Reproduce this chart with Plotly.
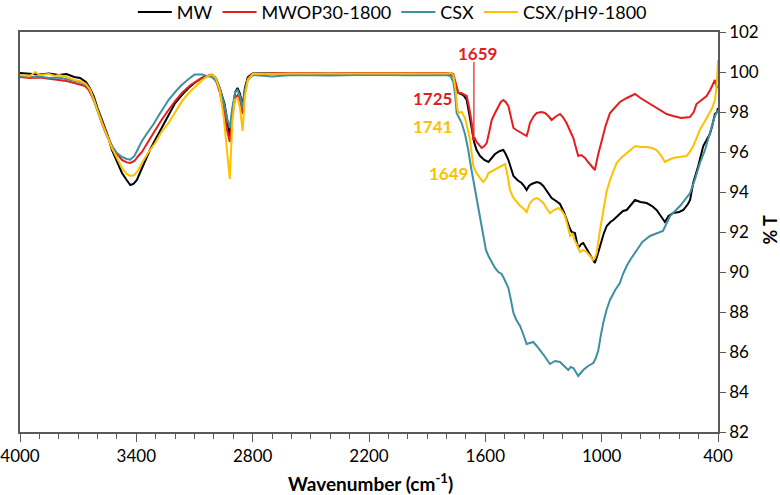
import plotly.graph_objects as go

# ---- data (wavenumber cm-1, %T) ----
mw_x = [4000, 3950, 3900, 3850, 3800, 3760, 3720, 3690, 3660, 3640, 3620, 3600, 3577, 3550, 3526, 3500, 3474, 3450, 3431, 3415, 3397, 3375, 3354, 3330, 3303, 3275, 3251, 3225, 3200, 3165, 3131, 3100, 3062, 3030, 3011, 2990, 2970, 2945, 2930, 2918, 2905, 2890, 2878, 2865, 2852, 2840, 2825, 2800, 2600, 2400, 2200, 2000, 1900, 1800, 1780, 1765, 1750, 1739, 1725, 1710, 1696, 1683, 1670, 1658, 1645, 1627, 1605, 1584, 1567, 1550, 1525, 1507, 1495, 1481, 1468, 1455, 1435, 1413, 1400, 1387, 1375, 1361, 1335, 1318, 1301, 1280, 1258, 1235, 1215, 1195, 1181, 1165, 1155, 1138, 1128, 1121, 1105, 1095, 1080, 1069, 1050, 1035, 1020, 1009, 990, 974, 955, 940, 920, 906, 890, 871, 850, 828, 800, 768, 740, 717, 695, 674, 655, 631, 600, 579, 555, 544, 528, 502, 476, 460, 442, 430, 416, 405, 400]
mw_y = [99.95, 99.9, 99.88, 99.92, 99.85, 99.9, 99.75, 99.7, 99.5, 99.2, 98.8, 98.2, 97.6, 96.9, 96.1, 95.5, 94.95, 94.6, 94.35, 94.4, 94.6, 95.1, 95.6, 96.1, 96.6, 97.1, 97.6, 98.0, 98.45, 98.85, 99.2, 99.45, 99.7, 99.82, 99.87, 99.7, 99.2, 98.4, 97.5, 96.8, 98.0, 99.0, 99.2, 98.9, 98.3, 99.2, 99.75, 99.92, 99.95, 99.93, 99.95, 99.94, 99.93, 99.93, 99.92, 99.8, 99.2, 98.95, 98.9, 98.8, 98.6, 97.9, 97.1, 96.5, 96.1, 95.8, 95.6, 95.5, 95.7, 95.9, 96.05, 96.1, 95.9, 95.6, 95.2, 94.8, 94.6, 94.45, 94.3, 94.1, 94.3, 94.4, 94.5, 94.45, 94.3, 94.0, 93.7, 93.55, 93.4, 93.0, 92.6, 92.2, 92.0, 91.95, 91.5, 91.2, 91.4, 91.45, 91.2, 91.0, 90.7, 90.45, 90.9, 91.3, 91.9, 92.3, 92.5, 92.6, 92.8, 92.9, 93.05, 93.1, 93.35, 93.6, 93.5, 93.45, 93.3, 93.1, 92.8, 92.5, 92.8, 92.95, 93.0, 93.1, 93.4, 93.6, 94.45, 95.3, 96.3, 96.6, 96.9, 97.3, 97.9, 98.0, 98.2]

mwop_x = [4000, 3950, 3900, 3850, 3800, 3760, 3720, 3690, 3665, 3645, 3620, 3600, 3577, 3552, 3526, 3500, 3474, 3450, 3431, 3410, 3390, 3371, 3340, 3303, 3270, 3234, 3200, 3165, 3120, 3079, 3040, 3011, 2990, 2970, 2945, 2930, 2918, 2905, 2890, 2878, 2865, 2852, 2840, 2825, 2800, 2600, 2400, 2200, 2000, 1900, 1800, 1780, 1765, 1752, 1739, 1725, 1710, 1696, 1683, 1670, 1662, 1655, 1645, 1630, 1619, 1605, 1593, 1580, 1567, 1550, 1533, 1520, 1507, 1495, 1481, 1468, 1455, 1440, 1421, 1400, 1387, 1378, 1370, 1350, 1335, 1310, 1292, 1275, 1258, 1240, 1215, 1200, 1181, 1165, 1146, 1135, 1121, 1105, 1086, 1070, 1060, 1045, 1035, 1020, 1000, 980, 957, 930, 906, 870, 850, 828, 800, 768, 735, 700, 665, 631, 590, 545, 525, 511, 490, 459, 440, 425, 416, 408, 400]
mwop_y = [99.75, 99.7, 99.72, 99.65, 99.6, 99.55, 99.45, 99.35, 99.3, 99.1, 98.6, 98.1, 97.5, 96.9, 96.3, 95.9, 95.6, 95.48, 95.45, 95.55, 95.8, 96.0, 96.5, 97.1, 97.6, 98.1, 98.55, 98.95, 99.35, 99.6, 99.78, 99.85, 99.6, 99.0, 97.9, 97.0, 96.5, 97.8, 98.7, 98.85, 98.6, 97.9, 99.0, 99.7, 99.9, 99.95, 99.93, 99.95, 99.94, 99.95, 99.95, 99.95, 99.9, 99.4, 98.95, 98.95, 98.85, 98.8, 98.2, 97.45, 96.6, 96.7, 96.5, 96.3, 96.2, 96.3, 96.45, 97.0, 97.6, 97.95, 98.3, 98.5, 98.6, 98.5, 98.3, 97.8, 97.2, 97.1, 97.0, 96.9, 96.8, 97.1, 97.45, 97.8, 97.95, 98.0, 97.95, 97.8, 97.6, 97.75, 97.9, 97.75, 97.45, 97.1, 96.7, 96.3, 95.8, 95.85, 95.7, 95.5, 95.4, 95.2, 95.1, 95.8, 96.6, 97.3, 97.95, 98.25, 98.5, 98.7, 98.8, 98.9, 98.7, 98.5, 98.3, 98.1, 97.9, 97.8, 97.7, 97.75, 98.0, 98.4, 98.55, 98.8, 99.1, 99.45, 99.6, 99.3, 99.2]

csx_x = [4000, 3950, 3900, 3850, 3800, 3760, 3720, 3690, 3660, 3640, 3620, 3600, 3577, 3552, 3526, 3500, 3474, 3450, 3431, 3410, 3390, 3371, 3340, 3311, 3280, 3250, 3234, 3200, 3165, 3130, 3100, 3060, 3040, 3010, 2990, 2970, 2945, 2930, 2918, 2905, 2890, 2878, 2865, 2852, 2840, 2825, 2800, 2700, 2600, 2400, 2200, 2000, 1900, 1800, 1780, 1765, 1755, 1748, 1735, 1722, 1705, 1688, 1675, 1662, 1650, 1636, 1622, 1610, 1597, 1584, 1567, 1550, 1533, 1516, 1500, 1481, 1468, 1455, 1440, 1421, 1405, 1387, 1370, 1353, 1335, 1318, 1295, 1267, 1240, 1215, 1195, 1172, 1160, 1146, 1130, 1121, 1108, 1095, 1070, 1043, 1030, 1017, 1005, 992, 975, 957, 930, 906, 890, 871, 850, 820, 790, 751, 715, 684, 647, 596, 544, 520, 493, 467, 440, 416, 405, 400]
csx_y = [99.8, 99.75, 99.78, 99.7, 99.72, 99.65, 99.55, 99.5, 99.35, 99.1, 98.6, 98.0, 97.4, 96.8, 96.3, 95.95, 95.75, 95.65, 95.62, 95.8, 96.2, 96.55, 97.0, 97.4, 97.9, 98.35, 98.6, 99.0, 99.36, 99.65, 99.87, 99.88, 99.8, 99.75, 99.55, 99.2, 98.3, 97.6, 97.2, 98.2, 99.0, 99.1, 98.8, 98.2, 99.1, 99.6, 99.85, 99.78, 99.85, 99.82, 99.86, 99.84, 99.85, 99.85, 99.8, 99.5, 98.8, 97.95, 97.7, 97.45, 96.9, 96.1, 95.3, 94.6, 93.9, 93.1, 92.3, 91.6, 91.1, 90.8, 90.5, 90.2, 90.0, 89.9, 89.6, 89.2, 88.6, 87.95, 87.6, 87.3, 86.9, 86.4, 86.45, 86.5, 86.3, 86.1, 85.8, 85.4, 85.55, 85.5, 85.3, 85.1, 85.25, 85.2, 84.95, 84.8, 84.95, 85.1, 85.3, 85.45, 85.7, 86.1, 86.8, 87.45, 88.1, 88.6, 89.1, 89.45, 89.9, 90.3, 90.65, 91.1, 91.5, 91.8, 91.95, 92.05, 92.8, 93.3, 93.95, 94.6, 95.45, 96.1, 97.0, 97.8, 98.0, 98.1]

csxph_x = [4000, 3950, 3920, 3900, 3850, 3820, 3800, 3760, 3720, 3690, 3660, 3640, 3620, 3600, 3577, 3552, 3526, 3500, 3474, 3450, 3431, 3410, 3390, 3371, 3340, 3303, 3270, 3234, 3200, 3165, 3130, 3097, 3060, 3030, 3011, 2990, 2970, 2950, 2935, 2918, 2905, 2893, 2878, 2865, 2852, 2840, 2825, 2800, 2600, 2400, 2200, 2000, 1900, 1800, 1780, 1765, 1752, 1745, 1739, 1722, 1705, 1692, 1679, 1670, 1662, 1649, 1636, 1620, 1610, 1595, 1584, 1565, 1550, 1525, 1498, 1485, 1473, 1460, 1447, 1420, 1400, 1387, 1378, 1370, 1350, 1335, 1318, 1301, 1285, 1267, 1245, 1224, 1205, 1189, 1175, 1163, 1150, 1140, 1129, 1120, 1112, 1095, 1078, 1060, 1043, 1035, 1026, 1010, 992, 975, 957, 940, 923, 900, 871, 850, 828, 800, 768, 740, 717, 695, 674, 655, 631, 600, 562, 545, 528, 510, 494, 470, 451, 430, 416, 408, 403, 400]
csxph_y = [99.85, 99.8, 100.0, 99.85, 99.9, 99.8, 99.85, 99.75, 99.6, 99.55, 99.4, 99.15, 98.65, 98.05, 97.45, 96.85, 96.2, 95.7, 95.2, 94.9, 94.8, 94.85, 95.1, 95.45, 95.95, 96.45, 97.0, 97.45, 97.95, 98.53, 98.95, 99.28, 99.6, 99.8, 99.87, 99.7, 99.1, 97.8, 96.2, 94.65, 97.5, 98.6, 98.7, 98.2, 97.05, 98.8, 99.6, 99.9, 99.93, 99.92, 99.94, 99.93, 99.92, 99.93, 99.95, 99.85, 99.0, 98.2, 97.95, 98.0, 97.7, 97.2, 96.6, 95.9, 95.3, 95.0, 94.8, 94.6, 94.5, 94.7, 94.95, 95.05, 95.1, 95.25, 95.4, 94.8, 94.1, 93.8, 93.6, 93.3, 93.15, 93.0, 93.2, 93.45, 93.65, 93.7, 93.6, 93.45, 93.2, 92.95, 93.1, 93.2, 93.05, 92.8, 92.3, 91.8, 91.9, 91.6, 91.4, 91.15, 91.0, 91.1, 91.0, 90.8, 90.6, 90.7, 90.95, 92.0, 93.1, 94.0, 94.6, 95.05, 95.45, 95.7, 95.95, 96.15, 96.3, 96.25, 96.25, 96.2, 96.1, 95.85, 95.5, 95.6, 95.7, 95.75, 95.8, 96.0, 96.3, 96.7, 97.1, 97.5, 97.8, 98.2, 98.6, 99.2, 100.0, 100.6]

series_names = ["MW", "MWOP30-1800", "CSX", "CSX/pH9-1800"]
series_colors = ["#000000", "#E41E1E", "#3E8FA0", "#FFC000"]
x_tick_vals = [4000, 3400, 2800, 2200, 1600, 1000, 400]
y_tick_vals = [82, 84, 86, 88, 90, 92, 94, 96, 98, 100, 102]

FONT = "Lato"
AXIS_COLOR = "#595959"

fig = go.Figure()
for name, color, xs, ys in zip(series_names, series_colors,
                               [mw_x, mwop_x, csx_x, csxph_x],
                               [mw_y, mwop_y, csx_y, csxph_y]):
    fig.add_trace(go.Scatter(x=xs, y=ys, mode="lines", name=name,
                             line=dict(color=color, width=2)))

# peak marker line at 1659
fig.add_shape(type="line", x0=1659, x1=1659, y0=100.5, y1=96.8,
              xref="x", yref="y", line=dict(color="#E41E1E", width=1.2))

def ann_font(c):
    return dict(family=FONT, size=17, color=c, weight="bold")

fig.add_annotation(x=1640, y=100.94, text="1659", showarrow=False, font=ann_font("#E41E1E"))
fig.add_annotation(x=1870, y=98.69, text="1725", showarrow=False, font=ann_font("#E41E1E"))
fig.add_annotation(x=1870, y=97.29, text="1741", showarrow=False, font=ann_font("#FFC000"))
fig.add_annotation(x=1792, y=94.94, text="1649", showarrow=False, font=ann_font("#FFC000"))

# axis titles
fig.add_annotation(x=0.5017, y=-0.127, xref="paper", yref="paper", xanchor="center", yanchor="middle",
                   text="Wavenumber (cm<sup>-1</sup>)", showarrow=False,
                   font=dict(family=FONT, size=19, color="#000000", weight="bold"))
fig.add_annotation(x=1.0745, y=0.506, xref="paper", yref="paper", xanchor="center", yanchor="middle",
                   text="% T", textangle=-90, showarrow=False,
                   font=dict(family=FONT, size=18, color="#000000", weight="bold"))

fig.update_layout(
    width=780, height=495,
    margin=dict(l=20, r=62, t=32, b=63, autoexpand=False),
    paper_bgcolor="white", plot_bgcolor="white",
    font=dict(family=FONT, size=17, color="#000000"),
    showlegend=True,
    legend=dict(orientation="h", x=0.503, xanchor="center", xref="container",
                y=0.975, yanchor="middle", yref="container", itemwidth=34,
                font=dict(family=FONT, size=18), bgcolor="rgba(0,0,0,0)"),
    xaxis=dict(range=[4000, 400], tickvals=x_tick_vals, ticks="outside", ticklen=8,
               tickcolor=AXIS_COLOR, showline=True, linecolor=AXIS_COLOR, linewidth=1.5,
               mirror=True, showgrid=False, zeroline=False,
               minor=dict(dtick=100, tick0=400, ticks="outside", ticklen=5, tickcolor=AXIS_COLOR, showgrid=False),
               tickfont=dict(family=FONT, size=17)),
    yaxis=dict(range=[82, 102], tickvals=y_tick_vals, side="right", ticks="outside", ticklen=6,
               tickcolor=AXIS_COLOR, showline=True, linecolor=AXIS_COLOR, linewidth=1.5,
               mirror=True, showgrid=False, zeroline=False,
               tickfont=dict(family=FONT, size=17)),
)

fig.write_html("out.html", config={"displayModeBar": False},
               post_script="document.body.style.margin='0';")
